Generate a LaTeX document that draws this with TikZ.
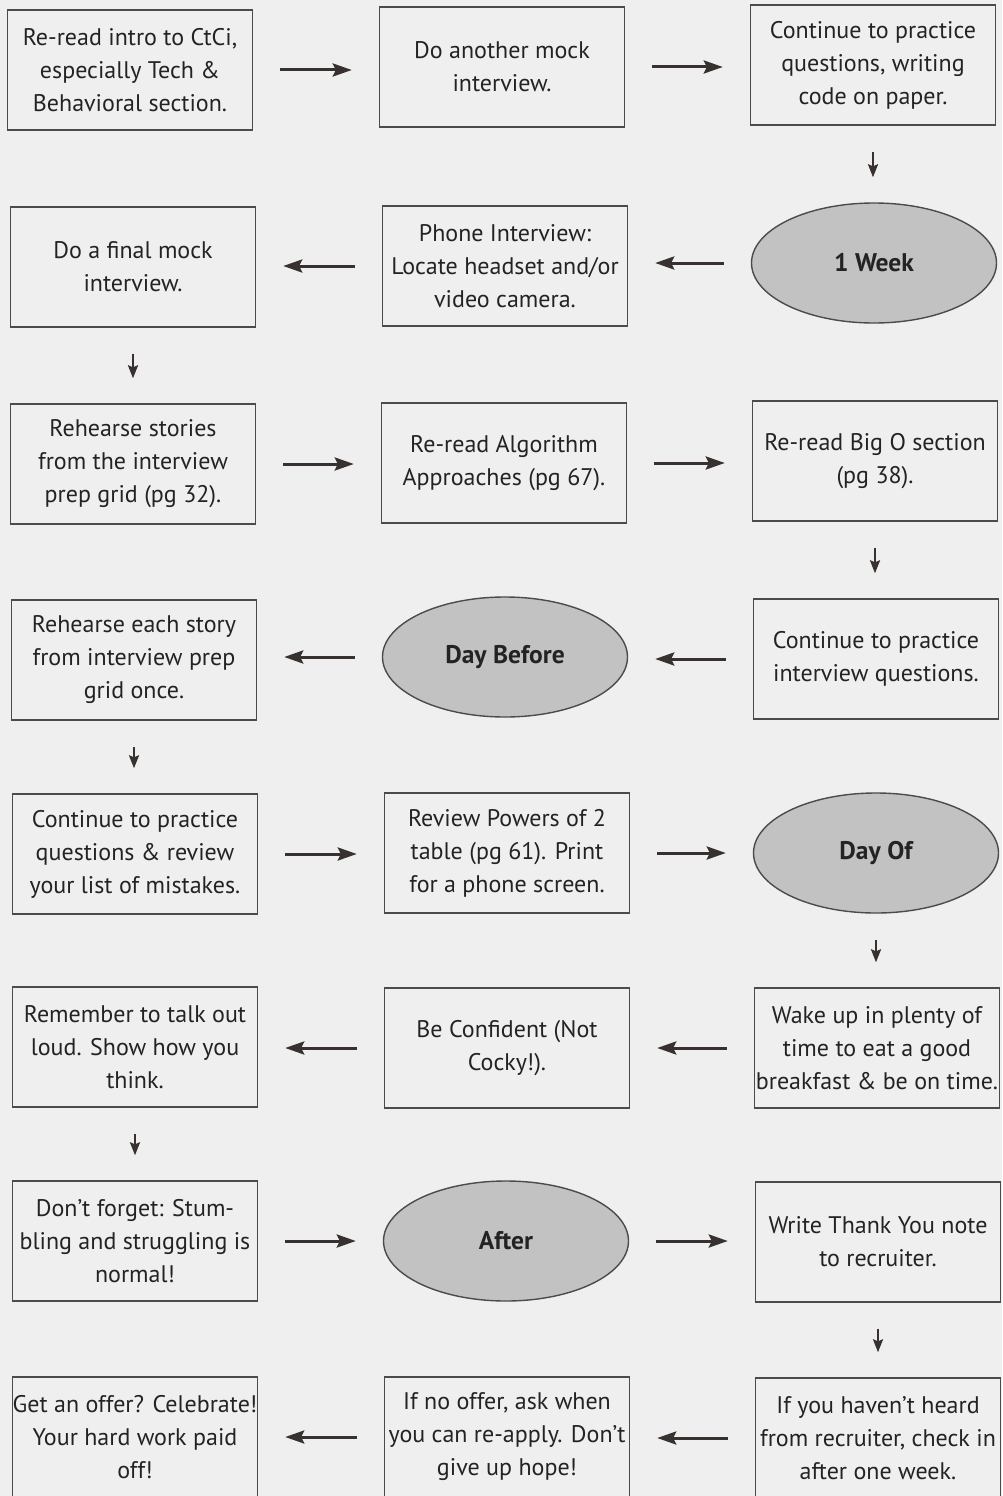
\documentclass[tikz,border=0pt]{standalone}
\usepackage{fontspec}
\setmainfont{PT Sans}
\usetikzlibrary{shapes.geometric,arrows.meta}
\definecolor{pagegray}{RGB}{239,239,239}
\definecolor{boxline}{RGB}{75,75,75}
\definecolor{phasegray}{RGB}{194,194,194}
\definecolor{inkgray}{RGB}{35,35,35}
\definecolor{arrowgray}{RGB}{55,50,48}

\begin{document}
\begin{tikzpicture}[x=1pt,y=-1pt,
		stepbox/.style={draw=boxline, line width=1.4pt, minimum width=245pt, minimum height=120pt,
			inner sep=0pt, align=center, text=inkgray, font=\fontsize{24}{33}\selectfont},
		phase/.style={ellipse, draw=boxline, fill=phasegray, line width=1.4pt, minimum width=245pt,
			minimum height=120pt, inner sep=0pt, text=inkgray, font=\bfseries\fontsize{25.5}{28}\selectfont},
		flow/.style={-{Stealth[length=19pt,width=13pt,inset=3pt]}, line width=3pt, draw=arrowgray,
			shorten <=27pt, shorten >=27pt},
		down/.style={-{Stealth[length=13pt,width=10pt,inset=2pt]}, line width=2.2pt, draw=arrowgray,
			shorten <=26pt, shorten >=25pt}]
	%%%%% PAGE %%%%%
	\useasboundingbox (0,0) rectangle (1002,1496);
	\fill[pagegray] (0,0) rectangle (1002,1496);
	\clip (0,0) rectangle (1002,1496);
	
	%%%%% ROW 1 %%%%%
	\node[stepbox] (intro) at (130,70) {Re-read intro to CtCi,\\especially Tech \&\\Behavioral section.};
	\node[stepbox] (mockTwo) at (502,67) {Do another mock\\interview.};
	\node[stepbox] (paper) at (873,65) {Continue to practice\\questions, writing\\code on paper.};
	
	%%%%% ROW 2 %%%%%
	\node[stepbox] (finalMock) at (133,267) {Do a final mock\\interview.};
	\node[stepbox] (phone) at (505,266) {Phone Interview:\\Locate headset and/or\\video camera.};
	\node[phase] (week) at (874,263) {1 Week};
	
	%%%%% ROW 3 %%%%%
	\node[stepbox] (stories) at (133,464) {Rehearse stories\\from the interview\\prep grid (pg 32).};
	\node[stepbox] (algo) at (504,463) {Re-read Algorithm\\Approaches (pg 67).};
	\node[stepbox] (bigO) at (875,461) {Re-read Big O section\\(pg 38).};
	
	%%%%% ROW 4 %%%%%
	\node[stepbox] (storyOnce) at (134,660) {Rehearse each story\\from interview prep\\grid once.};
	\node[phase] (dayBefore) at (505,657) {Day Before};
	\node[stepbox] (practiceQ) at (876,659) {Continue to practice\\interview questions.};
	
	%%%%% ROW 5 %%%%%
	\node[stepbox] (mistakes) at (135,854) {Continue to practice\\questions \& review\\your list of mistakes.};
	\node[stepbox] (powers) at (507,853) {Review Powers of 2\\table (pg 61). Print\\for a phone screen.};
	\node[phase] (dayOf) at (876,853) {Day Of};
	
	%%%%% ROW 6 %%%%%
	\node[stepbox] (talk) at (135,1047) {Remember to talk out\\loud. Show how you\\think.};
	\node[stepbox] (confident) at (507,1048) {Be Confident (Not\\Cocky!).};
	\node[stepbox] (wake) at (877,1048) {Wake up in plenty of\\time to eat a good\\breakfast \& be on time.};
	
	%%%%% ROW 7 %%%%%
	\node[stepbox] (stumble) at (135,1241) {Don’t forget: Stum-\\bling and struggling is\\normal!};
	\node[phase] (after) at (506,1241) {After};
	\node[stepbox] (thanks) at (878,1242) {Write Thank You note\\to recruiter.};
	
	%%%%% ROW 8 %%%%%
	\node[stepbox] (offer) at (135,1437) {Get an offer? Celebrate!\\Your hard work paid\\off!};
	\node[stepbox] (reapply) at (507,1437) {If no offer, ask when\\you can re-apply. Don’t\\give up hope!};
	\node[stepbox] (checkIn) at (878,1438) {If you haven’t heard\\from recruiter, check in\\after one week.};
	
	%%%%% ARROWS %%%%%
	\draw[flow] (intro.east) -- (intro.east -| mockTwo.west);
	\draw[flow] (mockTwo.east) -- (mockTwo.east -| paper.west);
	\draw[down] (paper.south) -- (paper.south |- week.north);
	\draw[flow] (week.west) -- (week.west -| phone.east);
	\draw[flow] (phone.west) -- (phone.west -| finalMock.east);
	\draw[down] (finalMock.south) -- (finalMock.south |- stories.north);
	\draw[flow] (stories.east) -- (stories.east -| algo.west);
	\draw[flow] (algo.east) -- (algo.east -| bigO.west);
	\draw[down] (bigO.south) -- (bigO.south |- practiceQ.north);
	\draw[flow] (practiceQ.west) -- (practiceQ.west -| dayBefore.east);
	\draw[flow] (dayBefore.west) -- (dayBefore.west -| storyOnce.east);
	\draw[down] (storyOnce.south) -- (storyOnce.south |- mistakes.north);
	\draw[flow] (mistakes.east) -- (mistakes.east -| powers.west);
	\draw[flow] (powers.east) -- (powers.east -| dayOf.west);
	\draw[down] (dayOf.south) -- (dayOf.south |- wake.north);
	\draw[flow] (wake.west) -- (wake.west -| confident.east);
	\draw[flow] (confident.west) -- (confident.west -| talk.east);
	\draw[down] (talk.south) -- (talk.south |- stumble.north);
	\draw[flow] (stumble.east) -- (stumble.east -| after.west);
	\draw[flow] (after.east) -- (after.east -| thanks.west);
	\draw[down] (thanks.south) -- (thanks.south |- checkIn.north);
	\draw[flow] (checkIn.west) -- (checkIn.west -| reapply.east);
	\draw[flow] (reapply.west) -- (reapply.west -| offer.east);
\end{tikzpicture}
\end{document}
